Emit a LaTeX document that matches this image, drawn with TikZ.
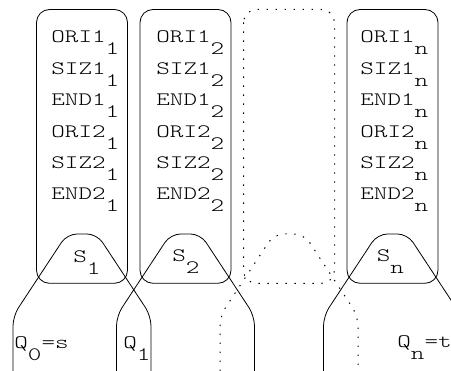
\documentclass[tikz,border=0pt]{standalone}
\usepackage{fontspec}
\newfontfamily\cour{lmmonolt10-regular}[Extension=.otf,FakeStretch=1.36]
\newcommand\lowr[1]{\raisebox{-12pt}{#1}}

\begin{document}
\begin{tikzpicture}[x=1pt,y=-1pt,line width=.8pt,font={\cour\fontsize{19}{20}\selectfont},
    field/.style={rounded corners=13pt},hump/.style={rounded corners=10pt},
    gap/.style={line width=1pt,dash pattern=on 1.4pt off 7.6pt},lbl/.style={inner sep=0pt,anchor=base west}]
  \useasboundingbox (0,0) rectangle (451,371);
  \clip (0,0) rectangle (451,371);
  \foreach \c/\i/\tx in {82/1/51,185.5/2/156,392.5/n/360}{
    \draw[field] (\c-45.5,9.5) rectangle (\c+45.5,283.3);
    \foreach \f [count=\r] in {ORI1,SIZ1,END1,ORI2,SIZ2,END2}
      \node[lbl] (f\i\r) at (\tx,{43+31.4*(\r-1)}) {\f\lowr{\i}};
    \draw[hump] (\c-69,380) -- (\c-69,316) -- (\c-15,234) -- (\c+15,234) -- (\c+69,316) -- (\c+69,380);
  }
  \draw[field,gap] (243.5,9.5) rectangle (334.5,283.3);
  \draw[hump,gap] (220,380) -- (220,316) -- (274,234) -- (304,234) -- (358,316) -- (358,380);
  \node[lbl] (s1) at (73,262.5) {S\lowr{1}};
  \node[lbl] (s2) at (172,262) {S\lowr{2}};
  \node[lbl] (sn) at (376.5,261.5) {S\lowr{n}};
  \node[lbl] (q0) at (14,348.5) {Q\lowr{0}=s};
  \node[lbl] (q1) at (123,348.5) {Q\lowr{1}};
  \node[lbl] (qn) at (397,348) {Q\lowr{n}=t};
\end{tikzpicture}
\end{document}
